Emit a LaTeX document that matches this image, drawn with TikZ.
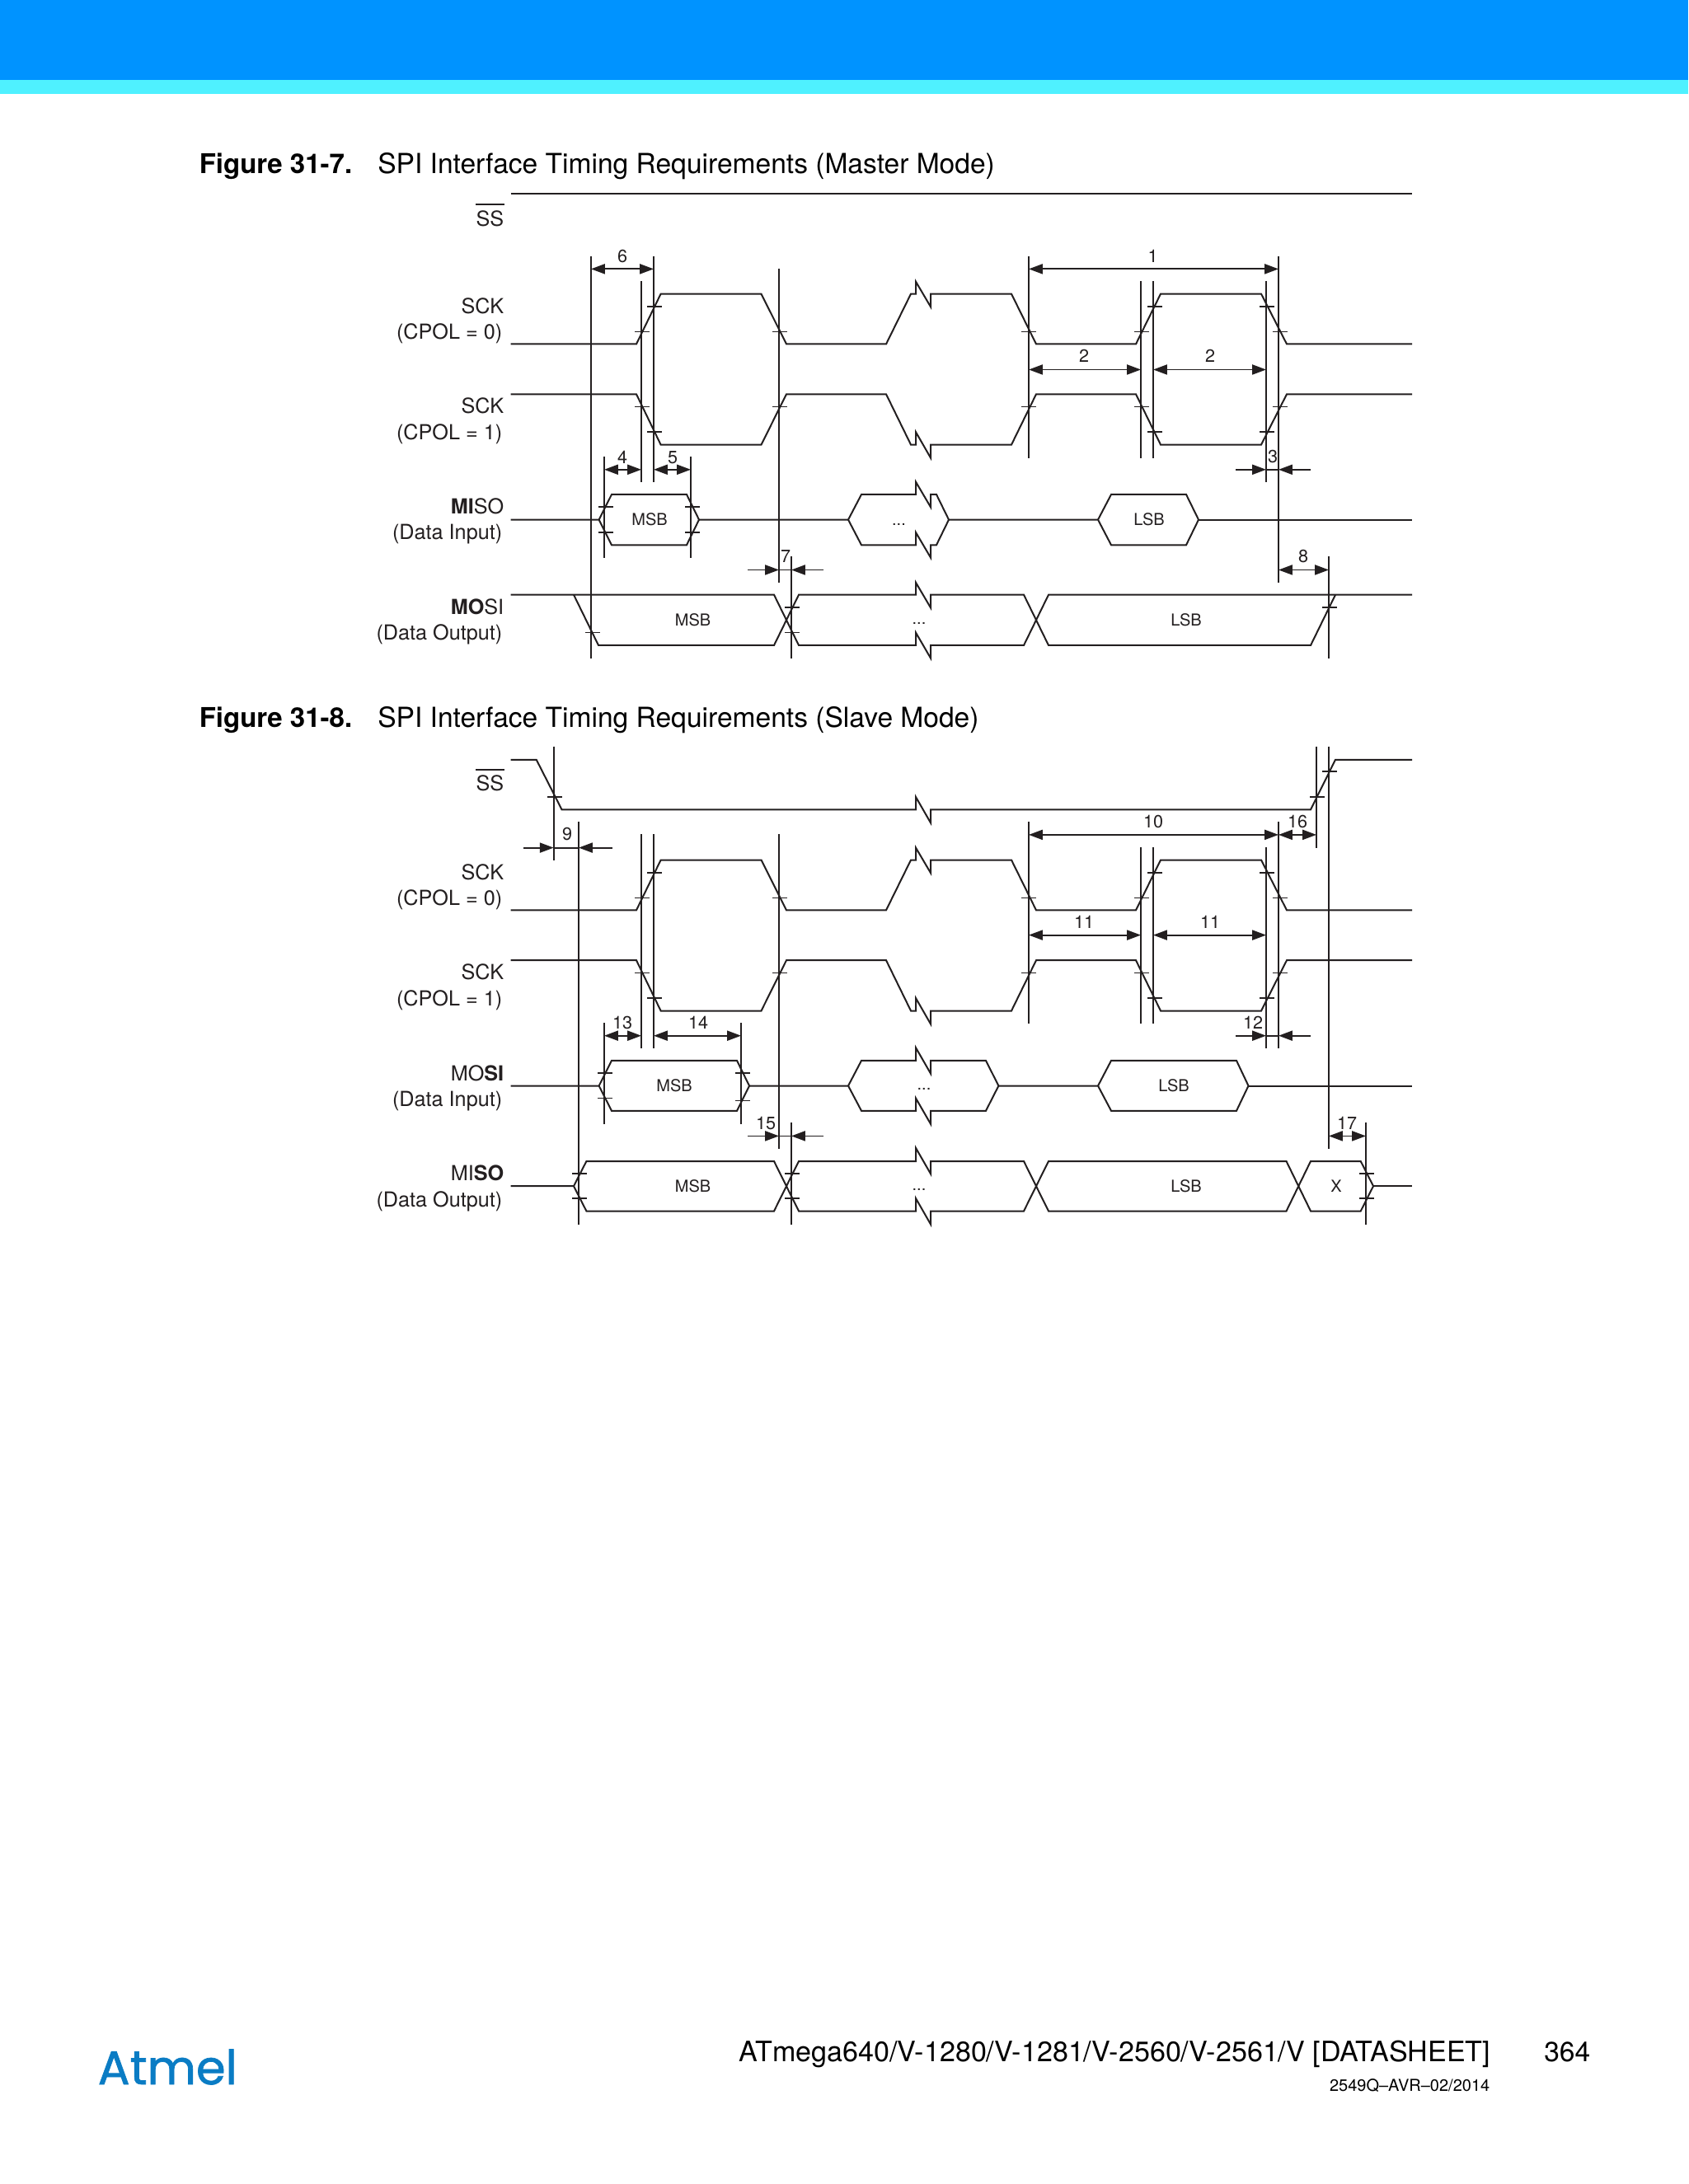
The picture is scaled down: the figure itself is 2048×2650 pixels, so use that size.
\documentclass[tikz,border=0pt]{standalone}
\usepackage{fontspec}
\setmainfont{TeX Gyre Heros}
\newfontfamily\logofont[FakeBold=1.2]{Poppins}
\usetikzlibrary{arrows.meta}
\definecolor{bandblue}{HTML}{0093FF}
\definecolor{bandcyan}{HTML}{4FF1FF}
\definecolor{logoblue}{HTML}{0A7CC4}
\definecolor{ink}{HTML}{231F20}
\newcommand{\sigfont}{\fontsize{6.3}{7.5}\selectfont}
\newcommand{\smallfont}{\fontsize{5}{6}\selectfont}
\newcommand{\numfont}{\fontsize{5.4}{6}\selectfont}
\newcommand{\headfont}{\fontsize{8.39}{10}\selectfont}
\newcommand{\boldhead}{\fontsize{8.25}{10}\selectfont\bfseries}
\newcommand{\footfont}{\fontsize{8.52}{10}\selectfont}
% both SCK rows, with their names and edge marks
\newcommand{\sckrows}[2]{
\begin{scope}[shift={(0,#1)},name prefix=#2]
\draw[sig] (619.5,417.5) -- (772,417.5) -- (801.6,356.6) -- (923.5,356.6) -- (954,417.5) -- (1075,417.5) -- (1105,356.6) -- (1111,356.6) -- (1111,341.7) -- (1129,372.3) -- (1129,356.6) -- (1227,356.6) -- (1257,417.5) -- (1378,417.5) -- (1408,356.6) -- (1530,356.6) -- (1561,417.5) -- (1713,417.5);
\draw[sig] (619.5,478.3) -- (772,478.3) -- (801.6,539.6) -- (923.5,539.6) -- (954,478.3) -- (1075,478.3) -- (1105,539.6) -- (1111,539.6) -- (1111,524.2) -- (1129,555.6) -- (1129,539.6) -- (1227,539.6) -- (1257,478.3) -- (1378,478.3) -- (1408,539.6) -- (1530,539.6) -- (1561,478.3) -- (1713,478.3);
\foreach \x/\y in {794/372,779/402.5,946/402.5,1248/402.5,1385/402.5,1401/372,1537/372,1552.5/402.5,779/493.6,794/524.2,946/493.6,1248/493.6,1385/493.6,1401/524.2,1537/524.2,1552.5/493.6}
  \draw[tick] (\x-9,\y) -- (\x+9,\y);
\node[siglabel] (sck0) at (612,380.3) {SCK};
\node[siglabel] (cpol0) at (610,411.5) {(CPOL = 0)};
\node[siglabel] (sck1) at (612,502) {SCK};
\node[siglabel] (cpol1) at (610,533.5) {(CPOL = 1)};
\end{scope}
}
\begin{document}
\begin{tikzpicture}[x=0.25pt,y=-0.25pt,>={Triangle[length=4.2pt,width=3pt]},line join=miter]
\tikzstyle{sig}=[draw=ink,line width=0.5pt]
\tikzstyle{guide}=[draw=ink,line width=0.45pt]
\tikzstyle{tick}=[draw=ink,line width=0.45pt]
\tikzstyle{dim}=[draw=ink,line width=0.45pt,fill=ink]
\tikzstyle{siglabel}=[anchor=base east,inner sep=0pt,text=ink,font=\sigfont]
\tikzstyle{inlabel}=[inner sep=0pt,text=ink,font=\smallfont,xshift=0.25pt]
\tikzstyle{numlabel}=[inner sep=0pt,text=ink,font=\numfont]
\useasboundingbox (0,0) rectangle (2048,2650);
\fill[white] (0,0) rectangle (2048,2650);
\fill[bandblue] (0,0) rectangle (2048,97);
\fill[bandcyan] (0,97) rectangle (2048,114);
\node[anchor=base west,inner sep=0pt,font=\boldhead] (title7) at (241,211) {Figure 31-7.};
\node[anchor=base west,inner sep=0pt,font=\headfont] (name7) at (457.5,211) {SPI Interface Timing Requirements (Master Mode)};
\node[anchor=base west,inner sep=0pt,font=\boldhead] (title8) at (241,883) {Figure 31-8.};
\node[anchor=base west,inner sep=0pt,font=\headfont] (name8) at (457.5,883) {SPI Interface Timing Requirements (Slave Mode)};
% master mode
\draw[sig,line width=0.55pt] (619.5,235.3) -- (1713,235.3);
\node[siglabel] (ssa) at (612,274.5) {SS};
\draw[sig] (577,247.6) -- (612,247.6);
\sckrows{0}{a}
\foreach \x/\a/\b in {717/310.7/798.6,793/310.7/585.5,778/341/585.5,945/326/706.8,1248/310.7/555.6,1384/341/555.6,1399/341/555.6,1536/341/585.5,1551/310.7/706.8,1612/675.4/798.6,733/554/676.6,838/554/676.6,960/675.4/798.6}
  \draw[guide] (\x,\a) -- (\x,\b);
\draw[dim,<->] (717,326.4) -- (793,326.4);
\draw[dim,<->] (1248,326.4) -- (1551,326.4);
\draw[dim,<->] (1248,448.5) -- (1384,448.5);
\draw[dim,<->] (1399,448.5) -- (1536,448.5);
\draw[dim,<->] (733,569.8) -- (778,569.8);
\draw[dim,<->] (793,569.8) -- (838,569.8);
\draw[dim,<->] (1551,691.5) -- (1612,691.5);
\draw[dim,->] (1499,569.8) -- (1536,569.8);
\draw[dim,->] (1590,569.8) -- (1551,569.8);
\draw[guide] (1536,569.8) -- (1551,569.8);
\draw[dim,->] (907,691.5) -- (945,691.5);
\draw[dim,->] (999,691.5) -- (960,691.5);
\draw[guide] (945,691.5) -- (960,691.5);
\node[numlabel] (d6) at (755,311) {6};
\node[numlabel] (d1) at (1398.5,311) {1};
\node[numlabel] (d2a) at (1315,431.6) {2};
\node[numlabel] (d2b) at (1468,431.6) {2};
\node[numlabel] (d3) at (1544,554) {3};
\node[numlabel] (d4) at (755,555) {4};
\node[numlabel] (d5) at (816,555) {5};
\node[numlabel] (d7) at (953,675.4) {7};
\node[numlabel] (d8) at (1581,675.4) {8};
% data rows
\draw[sig] (619.5,630.6) -- (726.6,630.6) -- (742,600) -- (833,600) -- (848,630.6) -- (833,661.3) -- (742,661.3) -- (726.6,630.6);
\draw[sig] (848,630.6) -- (1029,630.6) -- (1045,600) -- (1111,600) -- (1111,584.7) -- (1129,615.3) -- (1129,600) -- (1136,600) -- (1151,630.6) -- (1136,661.3) -- (1129,661.3) -- (1129,676.6) -- (1111,646) -- (1111,661.3) -- (1045,661.3) -- (1029,630.6);
\draw[sig] (1151,630.6) -- (1332,630.6) -- (1348,600) -- (1439,600) -- (1454,630.6) -- (1439,661.3) -- (1348,661.3) -- (1332,630.6);
\draw[sig] (1454,630.6) -- (1713,630.6);
\draw[sig] (619.5,721.7) -- (939,721.7) -- (969,783) -- (1111,783) -- (1111,767.6) -- (1129,798.6) -- (1129,783) -- (1242,783) -- (1272,721.7) -- (1713,721.7);
\draw[sig] (696,721.7) -- (726,783) -- (939,783) -- (969,721.7) -- (1111,721.7) -- (1111,706.8) -- (1129,737.4) -- (1129,721.7) -- (1242,721.7) -- (1272,783) -- (1590,783) -- (1620,721.7);
\foreach \x/\y in {734.6/615.3,734.6/646,840/615.3,840/646,718.6/767.6,961/737,961/767.6,1613/737}
  \draw[tick] (\x-9,\y) -- (\x+9,\y);
\node[siglabel] (misoa) at (612,624) {\textbf{MI}SO};
\node[siglabel] (inputa) at (610,655) {(Data Input)};
\node[siglabel] (mosia) at (612,745.8) {\textbf{MO}SI};
\node[siglabel] (outputa) at (610,777) {(Data Output)};
\node[inlabel] (msba) at (787,630.6) {MSB};
\node[inlabel] (dotsa) at (1089.5,636.4) {...};
\node[inlabel] (lsba) at (1393,630.6) {LSB};
\node[inlabel] (msbb) at (839.5,752.3) {MSB};
\node[inlabel] (dotsb) at (1114,756.9) {...};
\node[inlabel] (lsbb) at (1438,752.3) {LSB};
% slave mode
\draw[sig] (619.5,921.8) -- (650.7,921.8) -- (681.5,982.3) -- (1111,982.3) -- (1111,967) -- (1129,998.4) -- (1129,982.3) -- (1590,982.3) -- (1620,921.8) -- (1713,921.8);
\node[siglabel] (ssb) at (612,960) {SS};
\draw[sig] (577,933.7) -- (612,933.7);
\sckrows{686.9}{b}
\foreach \x/\y in {673/967,1598/967,1613/936.4,734/1302.2,734/1332.5,900.7/1302.2,900.7/1335.5,703.4/1423.9,703.4/1454,961/1423.9,961/1454,1658/1423.9,1658/1454}
  \draw[tick] (\x-9,\y) -- (\x+9,\y);
\foreach \x/\a/\b in {671.7/905.7/1044.3,702/996.8/1485.5,778/1012/1272.4,793/1012/1272.4,945/1012/1393.7,1248/996.8/1241.8,1384/1028.2/1241.8,1399/1028.2/1241.8,1536/1028.2/1272.4,1551/996.8/1272.4,1597/905.7/1029,1612/905.7/1393.7,1657/1362.3/1485.5,733/1241/1363.8,899/1241/1363.8,960/1362.3/1485.5}
  \draw[guide] (\x,\a) -- (\x,\b);
\draw[dim,->] (635,1028.6) -- (671.7,1028.6);
\draw[dim,->] (742.7,1028.6) -- (702,1028.6);
\draw[guide] (671.7,1028.6) -- (702,1028.6);
\draw[dim,<->] (1248,1012.9) -- (1551,1012.9);
\draw[dim,<->] (1551,1012.9) -- (1597,1012.9);
\draw[dim,<->] (1248,1134.6) -- (1384,1134.6);
\draw[dim,<->] (1399,1134.6) -- (1536,1134.6);
\draw[dim,->] (1499,1256.7) -- (1536,1256.7);
\draw[dim,->] (1590,1256.7) -- (1551,1256.7);
\draw[guide] (1536,1256.7) -- (1551,1256.7);
\draw[dim,<->] (733,1256.7) -- (778,1256.7);
\draw[dim,<->] (793,1256.7) -- (899,1256.7);
\draw[dim,->] (907,1378.4) -- (945,1378.4);
\draw[dim,->] (999,1378.4) -- (960,1378.4);
\draw[guide] (945,1378.4) -- (960,1378.4);
\draw[dim,<->] (1612,1378.4) -- (1657,1378.4);
\node[numlabel] (d9) at (688,1011.7) {9};
\node[numlabel] (d10) at (1399,996.8) {10};
\node[numlabel] (d16) at (1574,996.8) {16};
\node[numlabel] (d11a) at (1315,1119) {11};
\node[numlabel] (d11b) at (1468,1119) {11};
\node[numlabel] (d12) at (1520,1241) {12};
\node[numlabel] (d13) at (755,1241) {13};
\node[numlabel] (d14) at (847,1241) {14};
\node[numlabel] (d15) at (929,1363) {15};
\node[numlabel] (d17) at (1634,1363) {17};
\draw[sig] (619.5,1317.5) -- (726.6,1317.5) -- (742,1286.9) -- (894,1286.9) -- (909,1317.5) -- (894,1347.8) -- (742,1347.8) -- (726.6,1317.5);
\draw[sig] (909,1317.5) -- (1029,1317.5) -- (1045,1286.9) -- (1111,1286.9) -- (1111,1271.2) -- (1129,1302.6) -- (1129,1286.9) -- (1196,1286.9) -- (1211.4,1317.5) -- (1196,1347.8) -- (1129,1347.8) -- (1129,1363.8) -- (1111,1332.5) -- (1111,1347.8) -- (1045,1347.8) -- (1029,1317.5);
\draw[sig] (1211.4,1317.5) -- (1332,1317.5) -- (1348,1286.9) -- (1500,1286.9) -- (1514.5,1317.5) -- (1500,1347.8) -- (1348,1347.8) -- (1332,1317.5);
\draw[sig] (1514.5,1317.5) -- (1713,1317.5);
\draw[sig] (619.5,1439.2) -- (696,1439.2) -- (711.4,1409) -- (939,1409) -- (969,1469.5) -- (1111,1469.5) -- (1111,1454) -- (1129,1485.5) -- (1129,1469.5) -- (1242,1469.5) -- (1272,1409) -- (1560.5,1409) -- (1590,1469.5) -- (1650.7,1469.5) -- (1666,1439.2) -- (1650.7,1409) -- (1590,1409) -- (1560.5,1469.5) -- (1272,1469.5) -- (1242,1409) -- (1129,1409) -- (1129,1424.3) -- (1111,1392.9) -- (1111,1409) -- (969,1409) -- (939,1469.5) -- (711.4,1469.5) -- (696,1439.2);
\draw[sig] (1666,1439.2) -- (1713,1439.2);
\node[siglabel] (mosic) at (612,1311) {MO\textbf{SI}};
\node[siglabel] (inputc) at (610,1342.4) {(Data Input)};
\node[siglabel] (misoc) at (612,1432.7) {MI\textbf{SO}};
\node[siglabel] (outputc) at (610,1464) {(Data Output)};
\node[inlabel] (msbc) at (817,1317.5) {MSB};
\node[inlabel] (dotsc) at (1120,1321.7) {...};
\node[inlabel] (lsbc) at (1423,1317.5) {LSB};
\node[inlabel] (msbd) at (839.5,1439.2) {MSB};
\node[inlabel] (dotsd) at (1114,1443.4) {...};
\node[inlabel] (lsbd) at (1438,1439.2) {LSB};
\node[inlabel] (xd) at (1620,1439.2) {X};
% footer
\node[anchor=base west,inner sep=0pt,text=logoblue,font=\logofont\fontsize{14.4}{16}\selectfont] (logo) at (118,2529) {Atmel};
\node[anchor=base east,inner sep=0pt,font=\footfont] (part) at (1809,2501) {ATmega640/V-1280/V-1281/V-2560/V-2561/V [DATASHEET]};
\node[anchor=base west,inner sep=0pt,font=\headfont] (page) at (1872.5,2501) {364};
\node[anchor=base east,inner sep=0pt,font=\smallfont] (rev) at (1808,2537) {2549Q–AVR–02/2014};
\end{tikzpicture}
\end{document}
